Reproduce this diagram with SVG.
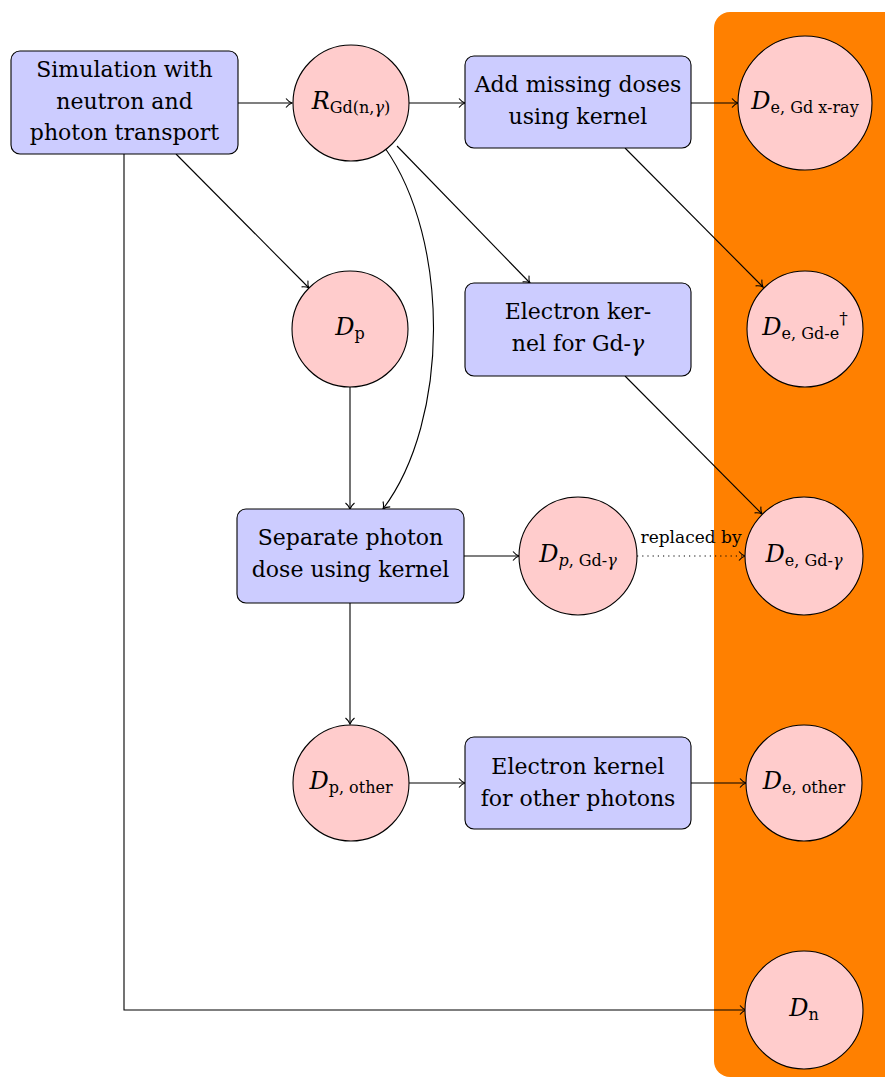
<svg xmlns="http://www.w3.org/2000/svg" width="885" height="1077" viewBox="0 0 885 1077">
<defs>
<marker id="arr" markerUnits="userSpaceOnUse" markerWidth="14" markerHeight="14" refX="0" refY="0" viewBox="-8 -7 10 14" orient="auto" overflow="visible">
<path d="M -6 -4.5 C -4 -2, -1.5 -0.5, 0 0 C -1.5 0.5, -4 2, -6 4.5" fill="none" stroke="#000" stroke-width="1.1"/>
</marker>
<style>
.box{fill:#ccccff;stroke:#000;stroke-width:1.1}
.circ{fill:#ffcccc;stroke:#000;stroke-width:1.1}
.t{font-family:'DejaVu Serif',serif;font-size:22px;fill:#000;text-anchor:middle}
.c{fill:none;stroke:#000;stroke-width:1.1}
.a{marker-end:url(#arr)}
.i{font-style:italic}
.m{font-style:italic;font-size:24px}
.s{font-size:16px}
</style>
</defs>
<rect x="0" y="0" width="885" height="1077" fill="#fff"/>
<rect id="panel" x="714" y="12" width="200" height="1065" rx="16" fill="#ff8000"/>

<g id="connectors">
<path class="c a" d="M238 103 H292"/>
<path class="c a" d="M409 103 H465"/>
<path class="c a" d="M691 103 H738"/>
<path class="c a" d="M176 154 L309 288"/>
<path class="c a" d="M397 146 L530 283"/>
<path class="c a" d="M385 148 C450 240 450 420 383 509"/>
<path class="c a" d="M625 148 L763 287"/>
<path class="c a" d="M625 376 L762 514"/>
<path class="c a" d="M350 387 V509"/>
<path class="c a" d="M464 556 H519"/>
<path class="c a" d="M637 556 H745" stroke-dasharray="1.2 4"/>
<text class="t" x="691" y="543" style="font-size:17px">replaced by</text>
<path class="c a" d="M350 603 V724"/>
<path class="c a" d="M409 783 H465"/>
<path class="c a" d="M691 783 H746"/>
<path class="c a" d="M124 154 V1010 H746"/>
</g>

<g id="n-sim">
<rect class="box" x="11" y="51" width="227" height="103" rx="9"/>
<text class="t" x="124.5" y="77">Simulation with</text>
<text class="t" x="124.5" y="109">neutron and</text>
<text class="t" x="124.5" y="140">photon transport</text>
</g>

<g id="n-R">
<circle class="circ" cx="351" cy="103" r="58"/>
<text class="t" x="351" y="109"><tspan class="m">R</tspan><tspan class="s" dy="4">Gd(n,<tspan class="i">γ</tspan>)</tspan></text>
</g>

<g id="n-add">
<rect class="box" x="465" y="56" width="226" height="92" rx="9"/>
<text class="t" x="578" y="92">Add missing doses</text>
<text class="t" x="578" y="124">using kernel</text>
</g>

<g id="n-dexray">
<circle class="circ" cx="805" cy="103" r="67"/>
<text class="t" x="805" y="109"><tspan class="m">D</tspan><tspan class="s" dy="4">e, Gd x-ray</tspan></text>
</g>

<g id="n-dp">
<circle class="circ" cx="350" cy="329" r="58"/>
<text class="t" x="350" y="335"><tspan class="m">D</tspan><tspan class="s" dy="4">p</tspan></text>
</g>

<g id="n-ekgd">
<rect class="box" x="465" y="283" width="226" height="93" rx="9"/>
<text class="t" x="578" y="319">Electron ker-</text>
<text class="t" x="578" y="351">nel for Gd-<tspan class="i">γ</tspan></text>
</g>

<g id="n-degde">
<circle class="circ" cx="805" cy="329" r="58"/>
<text class="t" x="805" y="335"><tspan class="m">D</tspan><tspan class="s" dy="4">e, Gd-e</tspan><tspan style="font-size:17px" dy="-15">†</tspan></text>
</g>

<g id="n-sep">
<rect class="box" x="237" y="509" width="227" height="94" rx="9"/>
<text class="t" x="350.5" y="545">Separate photon</text>
<text class="t" x="350.5" y="577">dose using kernel</text>
</g>

<g id="n-dpgd">
<circle class="circ" cx="578" cy="556" r="59"/>
<text class="t" x="578" y="562"><tspan class="m">D</tspan><tspan class="s" dy="4"><tspan class="i">p</tspan>, Gd-<tspan class="i">γ</tspan></tspan></text>
</g>

<g id="n-degd">
<circle class="circ" cx="804" cy="556" r="59"/>
<text class="t" x="804" y="562"><tspan class="m">D</tspan><tspan class="s" dy="4">e, Gd-<tspan class="i">γ</tspan></tspan></text>
</g>

<g id="n-dpother">
<circle class="circ" cx="351" cy="783" r="58"/>
<text class="t" x="351" y="789"><tspan class="m">D</tspan><tspan class="s" dy="4">p, other</tspan></text>
</g>

<g id="n-ekother">
<rect class="box" x="465" y="737" width="226" height="92" rx="9"/>
<text class="t" x="578" y="774">Electron kernel</text>
<text class="t" x="578" y="806">for other photons</text>
</g>

<g id="n-deother">
<circle class="circ" cx="804" cy="783" r="58"/>
<text class="t" x="804" y="789"><tspan class="m">D</tspan><tspan class="s" dy="4">e, other</tspan></text>
</g>

<g id="n-dn">
<circle class="circ" cx="804" cy="1010" r="59"/>
<text class="t" x="804" y="1016"><tspan class="m">D</tspan><tspan class="s" dy="4">n</tspan></text>
</g>
</svg>
